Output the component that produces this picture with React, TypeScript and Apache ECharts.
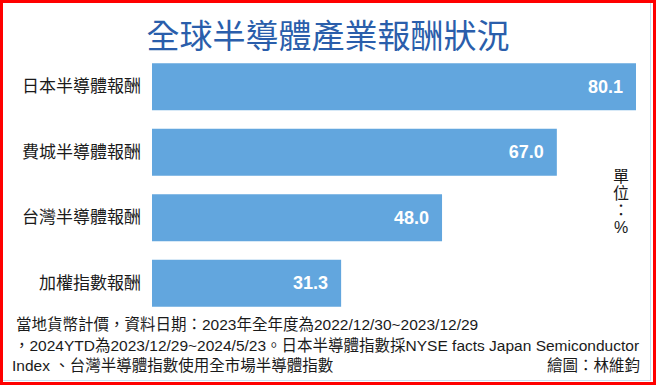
import React, { useEffect, useRef } from "react";
import * as echarts from "echarts";

const titleText = "全球半導體產業報酬狀況";
const categories = ["日本半導體報酬", "費城半導體報酬", "台灣半導體報酬", "加權指數報酬"];
const values = [80.1, 67.0, 48.0, 31.3];
const unitText = "單\n位\n：\n%";
const noteLines = [
  "當地貨幣計價，資料日期：2023年全年度為2022/12/30~2023/12/29",
  "，2024YTD為2023/12/29~2024/5/23。日本半導體指數採NYSE facts Japan Semiconductor",
  "Index 、台灣半導體指數使用全市場半導體指數",
];
const creditText = "繪圖：林維鈞";

const FONT = "'Liberation Sans', 'Noto Sans CJK TC', sans-serif";

export default function App() {
  const ref = useRef<HTMLDivElement>(null);
  useEffect(() => {
    document.body.style.margin = "0";
    if (!ref.current) return;
    const chart = echarts.init(ref.current, undefined, { renderer: "svg" });
    chart.setOption({
      animation: false,
      backgroundColor: "#ffffff",
      textStyle: { fontFamily: FONT },
      grid: { left: 152, top: 54, height: 262, right: 20, containLabel: false },
      xAxis: {
        type: "value",
        min: 0,
        max: 80.1,
        show: false,
      },
      yAxis: {
        type: "category",
        data: categories,
        inverse: true,
        axisLine: { show: false },
        axisTick: { show: false },
        axisLabel: {
          margin: 11,
          fontSize: 17,
          color: "#1a1a1a",
          fontFamily: FONT,
        },
      },
      series: [
        {
          type: "bar",
          data: values,
          barWidth: 47,
          itemStyle: { color: "#62a6de" },
          label: {
            show: true,
            position: "insideRight",
            distance: 13,
            color: "#ffffff",
            fontSize: 18,
            fontWeight: "bold",
            fontFamily: FONT,
            formatter: (p: any) => Number(p.value).toFixed(1),
          },
        },
      ],
      graphic: [
        {
          type: "text",
          x: 328,
          y: 34,
          style: {
            text: titleText,
            fontSize: 33,
            fill: "#2a5eab",
            fontFamily: "'Noto Sans CJK TC', sans-serif",
            align: "center",
            verticalAlign: "middle",
          },
        },
        {
          type: "text",
          x: 621,
          y: 168,
          style: {
            text: unitText,
            fontSize: 16,
            lineHeight: 17,
            fill: "#1a1a1a",
            fontFamily: FONT,
            align: "center",
            verticalAlign: "top",
          },
        },
        ...noteLines.map((t, i) => ({
          type: "text",
          x: i === 1 ? 14 : i === 0 ? 16 : 12,
          y: [324, 345, 365][i],
          style: {
            text: t,
            fontSize: 15.5,
            fill: "#1a1a1a",
            fontFamily: FONT,
            align: "left",
            verticalAlign: "middle",
          },
        })),
        {
          type: "text",
          x: 640,
          y: 365,
          style: {
            text: creditText,
            fontSize: 15.5,
            fill: "#1a1a1a",
            fontFamily: FONT,
            align: "right",
            verticalAlign: "middle",
          },
        },
        {
          type: "line",
          shape: { x1: 650.5, y1: 3, x2: 650.5, y2: 381 },
          style: { stroke: "#c9dcee", lineWidth: 1 },
        },
        {
          type: "line",
          shape: { x1: 3, y1: 380.5, x2: 651, y2: 380.5 },
          style: { stroke: "#c9dcee", lineWidth: 1 },
        },
        {
          type: "rect",
          shape: { x: 1.5, y: 1.5, width: 653, height: 382 },
          style: { fill: "none", stroke: "#ff0000", lineWidth: 3 },
        },
      ],
    });
    return () => chart.dispose();
  }, []);
  return <div ref={ref} style={{ width: 656, height: 385 }} />;
}
